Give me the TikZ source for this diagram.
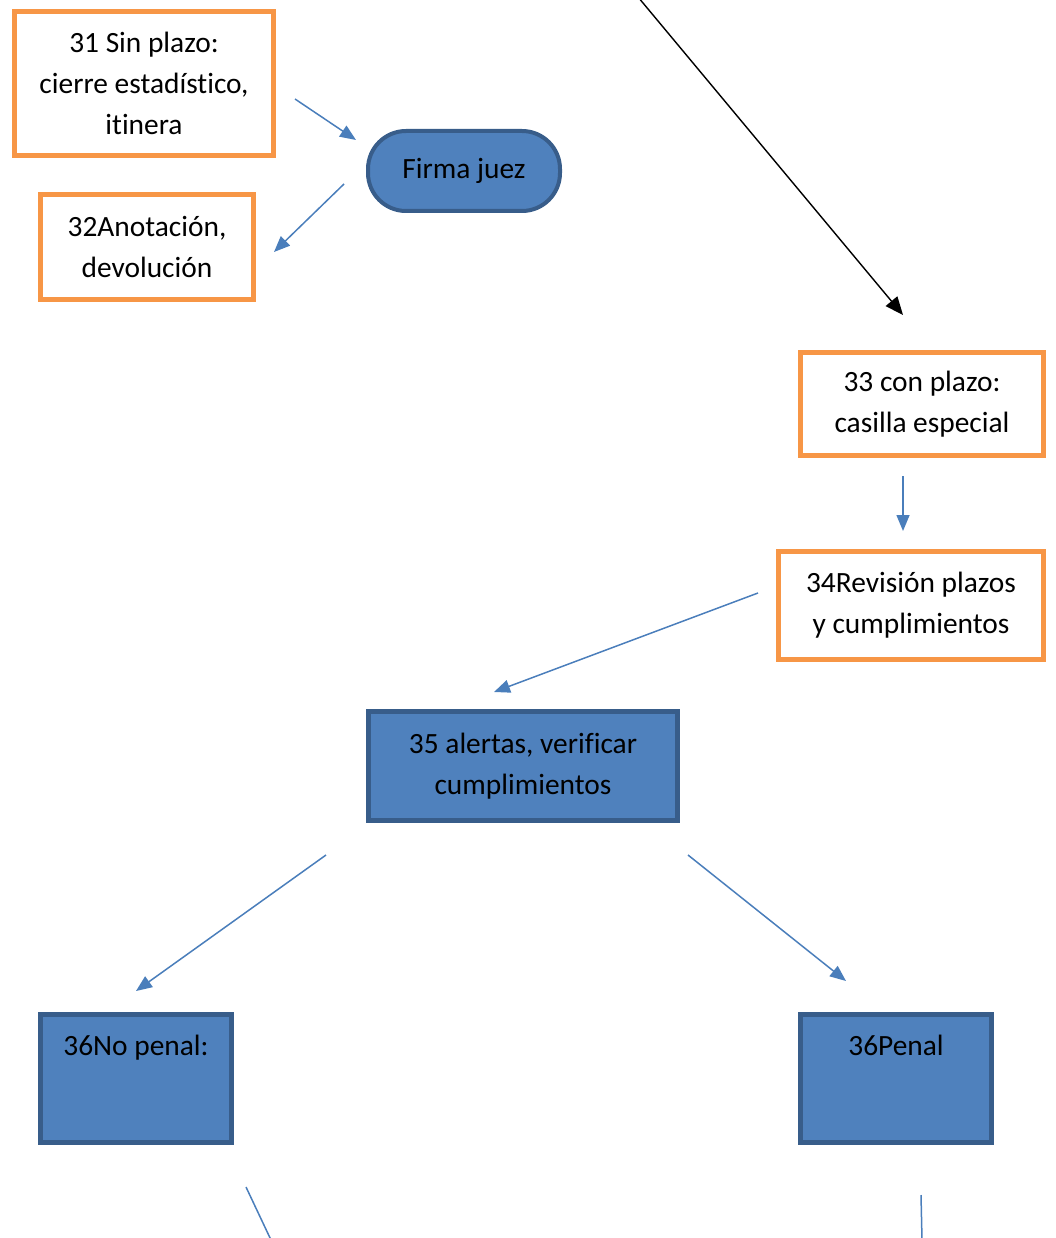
\documentclass[tikz,border=0pt]{standalone}
\usepackage{fontspec}
\setmainfont[Ligatures=NoCommon]{Carlito}
\usetikzlibrary{arrows.meta}
\definecolor{boxorange}{HTML}{F79646}
\definecolor{boxblue}{HTML}{4F81BD}
\definecolor{boxedge}{HTML}{385D8A}
\definecolor{linkblue}{HTML}{4A7EBB}
\begin{document}
\begin{tikzpicture}[x=1pt,y=-1pt,
  every node/.style={font=\fontsize{29.4}{41}\selectfont, align=center, inner sep=0pt, text=black},
  orangebox/.style={draw=boxorange, line width=5pt, fill=white},
  bluebox/.style={draw=boxedge, line width=5pt, fill=boxblue},
  pill/.style={draw=boxedge, line width=4pt, fill=boxblue, rounded corners=38pt},
  link/.style={draw=linkblue, line width=1.5pt, -{Triangle[length=16pt,width=13pt]}},
  plainlink/.style={draw=linkblue, line width=1.5pt},
  darklink/.style={draw=black, line width=1.4pt, -{Triangle[length=18pt,width=15pt]}}]
\useasboundingbox (0,0) rectangle (1056,1238);

% boxes
\node[orangebox, minimum width=259pt, minimum height=144pt] (b31) at (144,83.5)
  {31 Sin plazo:\\cierre estadístico,\\itinera};
\node[orangebox, minimum width=213pt, minimum height=105pt] (b32) at (147,247)
  {32Anotación,\\devolución};
\node[pill, minimum width=192pt, minimum height=80pt] (firma) at (464,171) {Firma juez};
\node[orangebox, minimum width=243pt, minimum height=103pt] (b33) at (922,404)
  {33 con plazo:\\casilla especial};
\node[orangebox, minimum width=265pt, minimum height=108pt] (b34) at (911,605.5)
  {34Revisión plazos\\y cumplimientos};
\node[bluebox, minimum width=309pt, minimum height=109pt] (b35) at (523,766)
  {35 alertas, verificar\\cumplimientos};
\node[bluebox, minimum width=191pt, minimum height=128pt] (b36n) at (136,1078.5) {};
\node[anchor=base] (t36n) at (136,1055) {36No penal:};
\node[bluebox, minimum width=191pt, minimum height=128pt] (b36p) at (896,1078.5) {};
\node[anchor=base] (t36p) at (896,1055) {36Penal};

% connector end points
\coordinate (a1s) at (295,99);   \coordinate (a1e) at (356,140);
\coordinate (a2s) at (344,184);  \coordinate (a2e) at (274,252);
\coordinate (a3s) at (638,-3);   \coordinate (a3e) at (903,315);
\coordinate (a4s) at (903,476);  \coordinate (a4e) at (903,531);
\coordinate (a5s) at (758,593);  \coordinate (a5e) at (494,692);
\coordinate (a6s) at (326,855);  \coordinate (a6e) at (136,991);
\coordinate (a7s) at (688,855);  \coordinate (a7e) at (846,981);
\coordinate (a8s) at (246,1187); \coordinate (a8e) at (271,1240);
\coordinate (a9s) at (921,1195); \coordinate (a9e) at (922,1240);

% connectors
\draw[link] (a1s) -- (a1e);
\draw[link] (a2s) -- (a2e);
\draw[darklink] (a3s) -- (a3e);
\draw[link] (a4s) -- (a4e);
\draw[link] (a5s) -- (a5e);
\draw[link] (a6s) -- (a6e);
\draw[link] (a7s) -- (a7e);
\draw[plainlink] (a8s) -- (a8e);
\draw[plainlink] (a9s) -- (a9e);
\end{tikzpicture}
\end{document}
